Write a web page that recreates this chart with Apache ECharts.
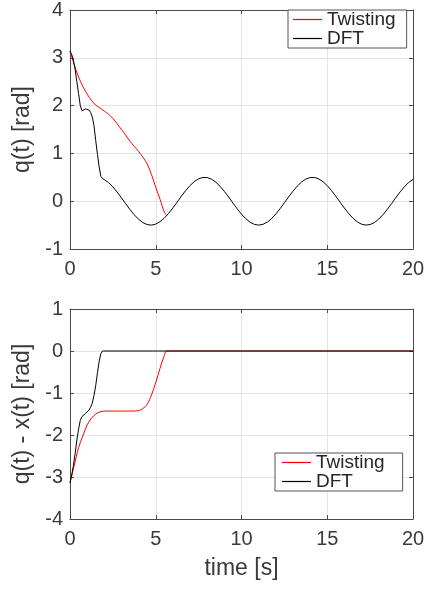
<!DOCTYPE html>
<html>
<head>
<meta charset="utf-8">
<script src="https://cdn.jsdelivr.net/npm/echarts@6/dist/echarts.min.js"></script>
<style>
  html, body { margin: 0; padding: 0; background: #ffffff; }
  #chart { width: 432px; height: 590px; }
</style>
</head>
<body>
<div id="chart"></div>
<script>
// Axis ticks
const xTicks = [0, 5, 10, 15, 20];
const qTicks = [-1, 0, 1, 2, 3, 4];
const eTicks = [-4, -3, -2, -1, 0, 1];

// Series names
const seriesNames = ['Twisting', 'DFT'];

// q(t) for the twisting controller (ends where it meets the reference)
const timeTwistingQ = [0, 0.25, 0.5, 0.75, 1.0, 1.25, 1.5, 1.75, 2.0, 2.25, 2.5, 2.75, 3.0, 3.25, 3.5, 3.75, 4.0, 4.25, 4.5, 4.75, 5.0, 5.25, 5.5, 5.64];
const qTwisting = [3.14, 2.85, 2.60, 2.40, 2.24, 2.11, 2.01, 1.95, 1.885, 1.82, 1.73, 1.62, 1.50, 1.38, 1.255, 1.145, 1.04, 0.92, 0.78, 0.56, 0.29, 0.04, -0.23, -0.30];

// q(t) for the DFT controller
const timeDftQ = [0, 0.1, 0.2, 0.3, 0.4, 0.5, 0.6, 0.7, 0.8, 0.9, 1.0, 1.1, 1.2, 1.3, 1.4, 1.5, 1.6, 1.7, 1.8, 1.9, 2.0,
  2.25, 2.5, 2.75, 3.0, 3.25, 3.5, 3.75, 4.0, 4.25, 4.5, 4.75, 5.0, 5.25, 5.5, 5.75, 6.0, 6.25, 6.5, 6.75, 7.0,
  7.25, 7.5, 7.75, 8.0, 8.25, 8.5, 8.75, 9.0, 9.25, 9.5, 9.75, 10.0, 10.25, 10.5, 10.75, 11.0, 11.25, 11.5, 11.75, 12.0,
  12.25, 12.5, 12.75, 13.0, 13.25, 13.5, 13.75, 14.0, 14.25, 14.5, 14.75, 15.0, 15.25, 15.5, 15.75, 16.0, 16.25, 16.5, 16.75, 17.0,
  17.25, 17.5, 17.75, 18.0, 18.25, 18.5, 18.75, 19.0, 19.25, 19.5, 19.75, 20.0];
const qDft = [3.14, 3.07, 2.95, 2.75, 2.50, 2.25, 2.00, 1.89, 1.90, 1.93, 1.93, 1.91, 1.86, 1.76, 1.58, 1.27, 0.98, 0.72, 0.52, 0.475, 0.455,
  0.389, 0.299, 0.191, 0.071, -0.054, -0.175, -0.286, -0.378, -0.448, -0.489, -0.500, -0.479, -0.429, -0.353, -0.255, -0.140, -0.017, 0.108, 0.225, 0.328,
  0.412, 0.469, 0.497, 0.495, 0.461, 0.399, 0.312, 0.206, 0.087, -0.038, -0.160, -0.272, -0.367, -0.440, -0.485, -0.500, -0.484, -0.438, -0.367, -0.268,
  -0.156, -0.033, 0.091, 0.210, 0.316, 0.402, 0.463, 0.495, 0.497, 0.467, 0.409, 0.325, 0.221, 0.103, -0.021, -0.144, -0.258, -0.356, -0.432, -0.481,
  -0.500, -0.488, -0.446, -0.376, -0.282, -0.171, -0.050, 0.075, 0.195, 0.303, 0.392, 0.456];

// Tracking error for the twisting controller
const timeTwistingE = [0, 0.25, 0.5, 0.75, 1.0, 1.25, 1.5, 1.75, 2.0, 2.5, 3.0, 3.5, 4.0, 4.25, 4.5, 4.75, 5.0, 5.25, 5.5, 5.64, 20];
const eTwisting = [-3.14, -2.72, -2.30, -2.02, -1.76, -1.60, -1.50, -1.45, -1.43, -1.43, -1.43, -1.43, -1.42, -1.37, -1.27, -1.05, -0.75, -0.41, -0.11, 0, 0];

// Tracking error for the DFT controller
const timeDftE = [0, 0.1, 0.2, 0.3, 0.4, 0.5, 0.6, 0.7, 0.8, 0.9, 1.0, 1.1, 1.2, 1.3, 1.4, 1.5, 1.6, 1.7, 1.8, 1.9, 20];
const eDft = [-3.14, -2.95, -2.72, -2.44, -2.12, -1.86, -1.65, -1.56, -1.52, -1.49, -1.46, -1.41, -1.34, -1.24, -1.06, -0.82, -0.52, -0.25, -0.06, 0, 0];

const pairs = (ts, vs) => ts.map((t, i) => [t, vs[i]]);

const FONT = 'Liberation Sans';
const AXIS_COLOR = '#4a4a4a';
const TEXT_COLOR = '#3a3a3a';
const GRID_COLOR = '#e4e4e4';

const axisLine = { show: true, onZero: false, lineStyle: { color: AXIS_COLOR, width: 1 } };
const axisTick = { show: true, inside: true, length: 4, lineStyle: { color: AXIS_COLOR } };

function mainXAxis(gridIndex, name) {
  return {
    type: 'value', gridIndex, position: 'bottom',
    min: xTicks[0], max: xTicks[xTicks.length - 1], interval: xTicks[1] - xTicks[0],
    name: name || '', nameLocation: 'middle', nameGap: 38,
    nameTextStyle: { fontFamily: FONT, fontSize: 23, color: TEXT_COLOR },
    axisLine, axisTick,
    axisLabel: { fontFamily: FONT, fontSize: 20, color: TEXT_COLOR, margin: 10 },
    splitLine: { show: true, lineStyle: { color: GRID_COLOR, width: 1 } }
  };
}
function boxXAxis(gridIndex) {
  return {
    type: 'value', gridIndex, position: 'top',
    min: xTicks[0], max: xTicks[xTicks.length - 1], interval: xTicks[1] - xTicks[0],
    axisLine, axisTick, axisLabel: { show: false }, splitLine: { show: false }
  };
}
function mainYAxis(gridIndex, ticks, name) {
  return {
    type: 'value', gridIndex, position: 'left',
    min: ticks[0], max: ticks[ticks.length - 1], interval: ticks[1] - ticks[0],
    name, nameLocation: 'middle', nameGap: 26,
    nameTextStyle: { fontFamily: FONT, fontSize: 23, color: TEXT_COLOR },
    axisLine, axisTick,
    axisLabel: { fontFamily: FONT, fontSize: 20, color: TEXT_COLOR, margin: 7 },
    splitLine: { show: true, lineStyle: { color: GRID_COLOR, width: 1 } }
  };
}
function boxYAxis(gridIndex, ticks) {
  return {
    type: 'value', gridIndex, position: 'right',
    min: ticks[0], max: ticks[ticks.length - 1], interval: ticks[1] - ticks[0],
    axisLine, axisTick, axisLabel: { show: false }, splitLine: { show: false }
  };
}
function legendBox(left, top, padding) {
  return {
    left, top, orient: 'vertical', data: seriesNames,
    icon: 'rect', itemWidth: 29, itemHeight: 1.2, itemGap: 0,
    padding, borderColor: '#555555', borderWidth: 1, backgroundColor: '#ffffff',
    textStyle: { fontFamily: FONT, fontSize: 19, color: '#262626' },
    selectedMode: false
  };
}
function lineSeries(name, color, xAxisIndex, yAxisIndex, data, smooth) {
  return {
    name, type: 'line', xAxisIndex, yAxisIndex, data,
    showSymbol: false, symbol: 'none', smooth: smooth || false,
    lineStyle: { color, width: 1 }, itemStyle: { color },
    emphasis: { disabled: true }, silent: true
  };
}

const chart = echarts.init(document.getElementById('chart'), null, { renderer: 'canvas' });
chart.setOption({
  animation: false,
  backgroundColor: '#ffffff',
  grid: [
    { left: 70, top: 7, width: 343, height: 242 },
    { left: 70, top: 309, width: 343, height: 210 }
  ],
  legend: [
    legendBox(288, 10, [0, 11, 0, 5]),
    legendBox(275, 453, [0, 18, 0, 7])
  ],
  xAxis: [mainXAxis(0), boxXAxis(0), mainXAxis(1, 'time [s]'), boxXAxis(1)],
  yAxis: [mainYAxis(0, qTicks, 'q(t) [rad]'), boxYAxis(0, qTicks), mainYAxis(1, eTicks, 'q(t) - x(t) [rad]'), boxYAxis(1, eTicks)],
  series: [
    lineSeries('Twisting', '#ff0000', 0, 0, pairs(timeTwistingQ, qTwisting), 0.3),
    lineSeries('DFT', '#000000', 0, 0, pairs(timeDftQ, qDft)),
    lineSeries('Twisting', '#ff0000', 2, 2, pairs(timeTwistingE, eTwisting), 0.3),
    lineSeries('DFT', '#000000', 2, 2, pairs(timeDftE, eDft))
  ]
});
</script>
</body>
</html>
